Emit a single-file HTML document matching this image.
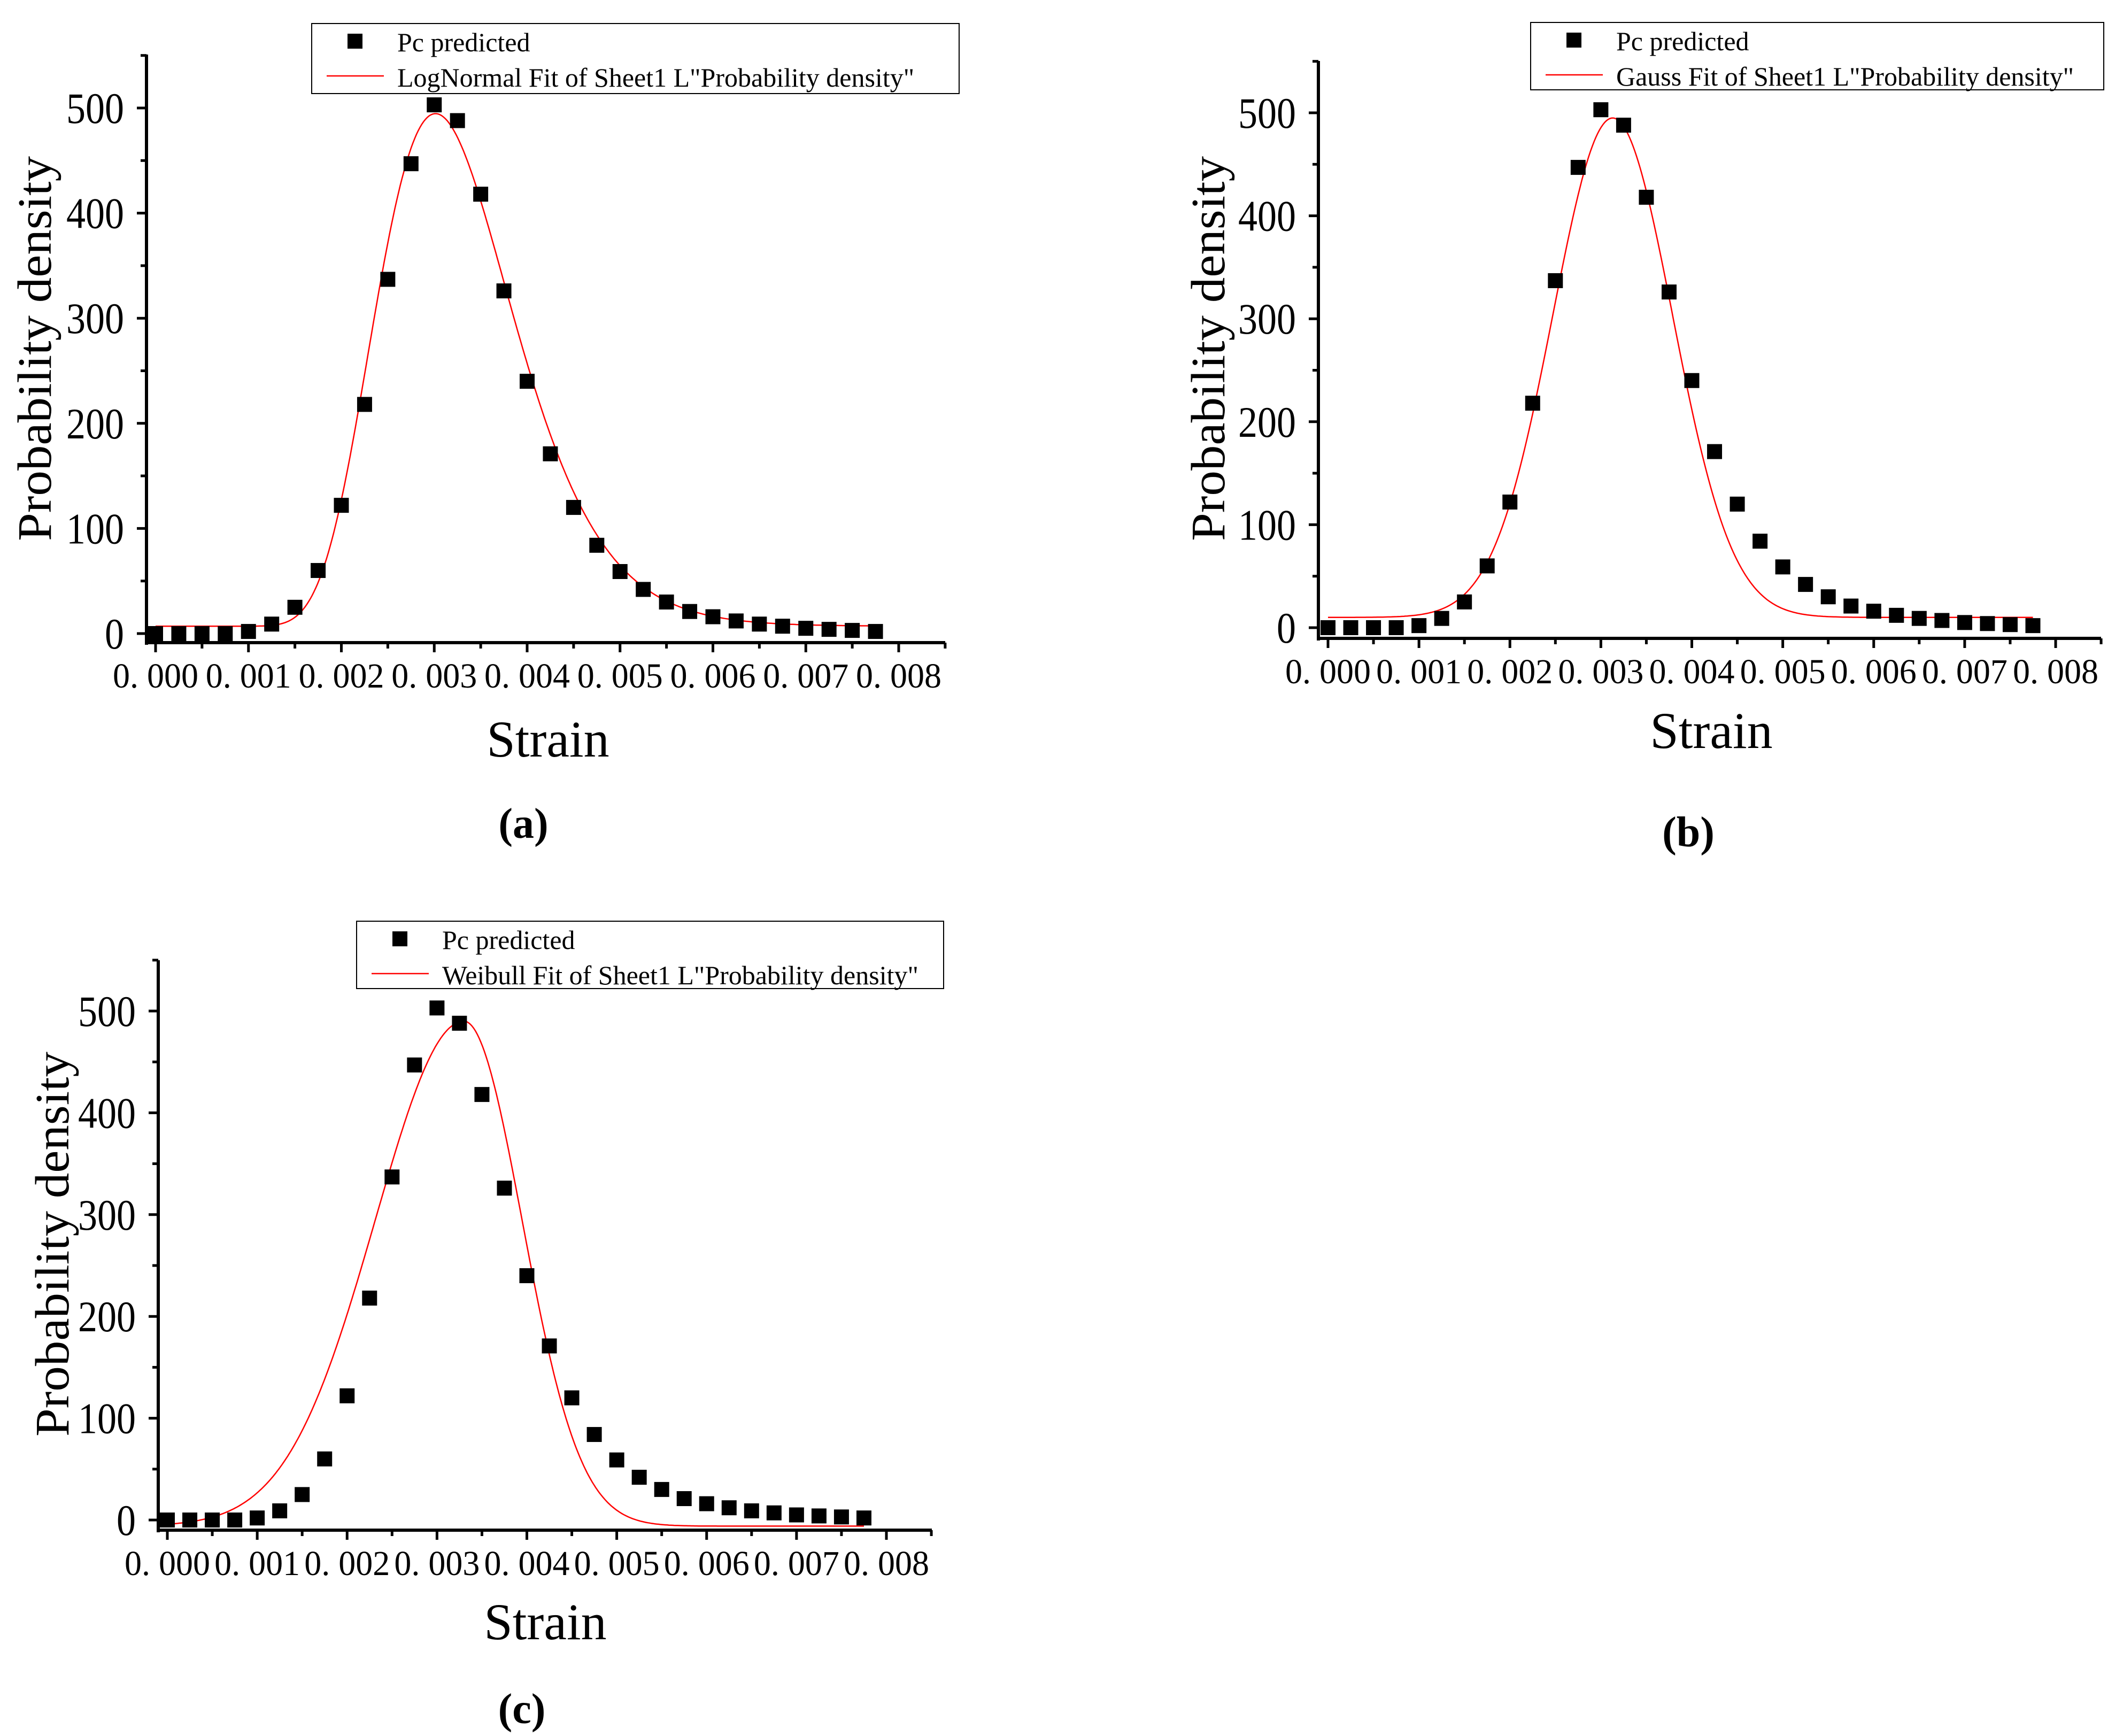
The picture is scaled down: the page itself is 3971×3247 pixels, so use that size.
<!DOCTYPE html>
<html><head><meta charset="utf-8"><style>
html,body{margin:0;padding:0;background:#fff;}
svg{display:block;font-family:"Liberation Serif","Noto Serif CJK SC",serif;}
</style></head><body>
<svg id="chart" width="3971" height="3247" viewBox="0 0 3971 3247" xmlns="http://www.w3.org/2000/svg"></svg>
<script>
const strainValues = [0,0.00025,0.0005,0.00075,0.001,0.00125,0.0015,0.00175,0.002,0.00225,0.0025,0.00275,0.003,0.00325,0.0035,0.00375,0.004,0.00425,0.0045,0.00475,0.005,0.00525,0.0055,0.00575,0.006,0.00625,0.0065,0.00675,0.007,0.00725,0.0075,0.00775];
const densityValues = [0,0,0,0,2,9,25,60,122,218,337,447,503,488,418,326,240,171,120,84,59,42,30,21,16,12,9,7,5,4,3,2];
const xTickValues = [0,0.001,0.002,0.003,0.004,0.005,0.006,0.007,0.008];
const xTickLabels = ["0. 000","0. 001","0. 002","0. 003","0. 004","0. 005","0. 006","0. 007","0. 008"];
const yTickValues = [0,100,200,300,400,500];
const yTickLabels = ["0","100","200","300","400","500"];
const lognormalParams = [7, 0.93, 0.0032, 0.245];     // y0, A, xc, w
const gaussParams = [10, 485, 0.00313, 0.000657];      // y0, A, xc, sigma
const weibullParams = [-6, 496, 0.0033, 0.001395, 0.000914]; // y0, peak, xc, left width, right width

const NS="http://www.w3.org/2000/svg";
const svg=document.getElementById('chart');
function mk(tag,attrs,parent){const e=document.createElementNS(NS,tag);for(const k in attrs)e.setAttribute(k,attrs[k]);(parent||svg).appendChild(e);return e;}

function lognormal(x){const [y0,A,xc,w]=lognormalParams;if(x<=0)return y0;const l=Math.log(x/xc);return y0+A/(Math.sqrt(2*Math.PI)*w*x)*Math.exp(-l*l/(2*w*w));}
function gauss(x){const [y0,A,xc,s]=gaussParams;const d=x-xc;return y0+A*Math.exp(-d*d/(2*s*s));}
function weibull(x){const [y0,P,xc,sl,sr]=weibullParams;const d=x-xc;const s=d<0?sl:sr;return y0+P*Math.exp(-(d/s)*(d/s));}

const panels=[
 {id:'a',x0:291,x8:1681,y0:1185,y5:202,L:274,B:1202,T:102,R:1768,leg:[583,44,1794,175],strain:[1025,1415],lab:[979,1567],yl:[95,652],fit:lognormal,fitName:'LogNormal Fit of Sheet1 L"Probability density"'},
 {id:'b',x0:2484,x8:3845,y0:1174,y5:211,L:2466,B:1194,T:114,R:3930,leg:[2863,42,3935,168],strain:[3201,1399],lab:[3158,1583],yl:[2290,652],fit:gauss,fitName:'Gauss Fit of Sheet1 L"Probability density"'},
 {id:'c',x0:313,x8:1658,y0:2843,y5:1891,L:296,B:2862,T:1796,R:1743,leg:[667,1723,1765,1849],strain:[1020,3066],lab:[976,3223],yl:[128,2327],fit:weibull,fitName:'Weibull Fit of Sheet1 L"Probability density"'}
];

panels.forEach(p=>{
 const g=mk('g',{});
 
 
 const X=v=>p.x0+(p.x8-p.x0)*v/0.008;
 const Y=v=>p.y0+(p.y5-p.y0)*v/500;
 const ya=mk('line',{x1:p.L,y1:p.T,x2:p.L,y2:p.B+4,stroke:'#000','stroke-width':6},g);
 
 const xa=mk('line',{x1:p.L-3,y1:p.B,x2:p.R,y2:p.B,stroke:'#000','stroke-width':6},g);
 
 for(let v=0;v<=550;v+=50){const maj=v%100===0;mk('line',{x1:p.L-(maj?18:11),y1:Y(v),x2:p.L,y2:Y(v),stroke:'#000','stroke-width':5},g);}
 yTickValues.forEach((v,i)=>{const lbl=yTickLabels[i];const t=mk('text',{x:p.L-42,y:Y(v)+28,'font-size':82,'text-anchor':'end',textLength:36*lbl.length,lengthAdjust:'spacingAndGlyphs'},g);t.textContent=lbl;
  });
 for(let v=0;v<=0.0085+1e-9;v+=0.0005){const maj=Math.abs(v/0.001-Math.round(v/0.001))<1e-6;mk('line',{x1:X(v),y1:p.B,x2:X(v),y2:p.B+(maj?18:11),stroke:'#000','stroke-width':5},g);}
 xTickValues.forEach((v,i)=>{const t=mk('text',{x:X(v),y:p.B+84,'font-size':66,'text-anchor':'middle',textLength:160,lengthAdjust:'spacingAndGlyphs'},g);t.textContent=xTickLabels[i];
  });
 let d='';for(let i=0;i<=400;i++){const x=0.00775*i/400;d+=(i?'L':'M')+X(x).toFixed(1)+','+Y(p.fit(x)).toFixed(1);}
 const c=mk('path',{d:d,fill:'none',stroke:'#ff0000','stroke-width':2.5},g);
 
 strainValues.forEach((s,i)=>{const r=mk('rect',{x:X(s)-14,y:Y(densityValues[i])-14,width:28,height:28,fill:'#000'},g);
  });
 const st=mk('text',{x:p.strain[0],y:p.strain[1],'font-size':96,'text-anchor':'middle'},g);st.textContent='Strain';
 
 const yt=mk('text',{x:0,y:0,'font-size':90,'text-anchor':'middle',textLength:720,lengthAdjust:'spacingAndGlyphs',transform:`translate(${p.yl[0]},${p.yl[1]}) rotate(-90)`},g);yt.textContent='Probability density';
 
 const lb=mk('text',{x:p.lab[0],y:p.lab[1],'font-size':80,'font-weight':'bold','text-anchor':'middle'},g);lb.textContent='('+p.id+')';
 
 const [lx,ly,rx,by]=p.leg;
 const lg=mk('g',{},g);
 mk('rect',{x:lx,y:ly,width:rx-lx,height:by-ly,fill:'#fff',stroke:'#000','stroke-width':2},lg);
 mk('rect',{x:lx+67,y:ly+19,width:28,height:28,fill:'#000'},lg);
 mk('line',{x1:lx+28,y1:ly+98,x2:lx+135,y2:ly+98,stroke:'#ff0000','stroke-width':2.5},lg);
 const t1=mk('text',{x:lx+160,y:ly+52,'font-size':50},lg);t1.textContent='Pc predicted';
 
 const t2=mk('text',{x:lx+160,y:ly+118,'font-size':50},lg);t2.textContent=p.fitName;
 
});
</script>
</body></html>
